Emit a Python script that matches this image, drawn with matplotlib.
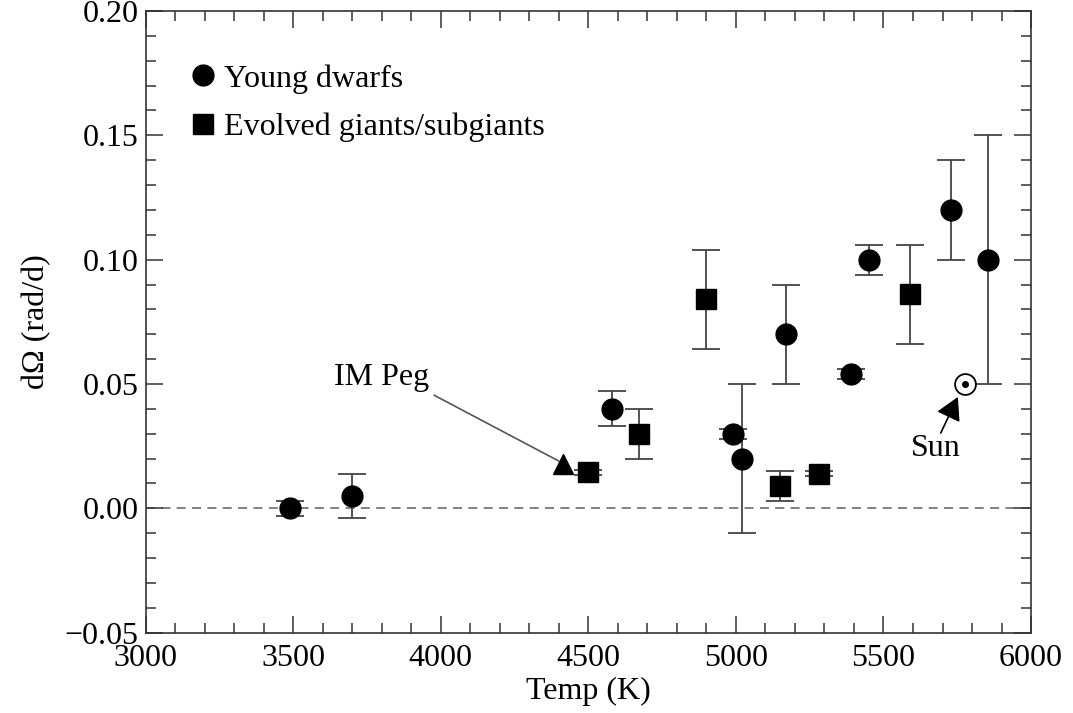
import matplotlib
matplotlib.use("Agg")
import matplotlib.pyplot as plt
from matplotlib.lines import Line2D
from matplotlib.ticker import MultipleLocator, FuncFormatter

plt.rcParams['font.family'] = ['Liberation Serif', 'DejaVu Serif']

# Young dwarfs
dwarf_T = [3490, 3700, 4580, 4990, 5020, 5170, 5390, 5450, 5730, 5855]
dwarf_dO = [0.000, 0.005, 0.040, 0.030, 0.020, 0.070, 0.054, 0.100, 0.120, 0.100]
dwarf_err = [0.003, 0.009, 0.007, 0.002, 0.030, 0.020, 0.002, 0.006, 0.020, 0.050]

# Evolved giants/subgiants
giant_T = [4500, 4670, 4900, 5150, 5280, 5590]
giant_dO = [0.0145, 0.030, 0.084, 0.009, 0.014, 0.086]
giant_err = [0.001, 0.010, 0.020, 0.006, 0.001, 0.020]

# IM Peg and Sun
impeg_T, impeg_dO = 4415, 0.018
sun_T, sun_dO = 5777, 0.050

FS = 23

fig = plt.figure(figsize=(10.73, 7.13), dpi=100)
ax = fig.add_axes([0.1358, 0.1126, 0.8251, 0.872])

ecol = '#444444'
ax.axhline(0, color='#777777', lw=1.3, ls=(0, (5, 3.5)), zorder=1)

ax.errorbar(dwarf_T, dwarf_dO, yerr=dwarf_err, fmt='none', ecolor=ecol,
            elinewidth=1.3, capsize=10, capthick=1.3, zorder=2)
ax.errorbar(giant_T, giant_dO, yerr=giant_err, fmt='none', ecolor=ecol,
            elinewidth=1.3, capsize=10, capthick=1.3, zorder=2)
ax.plot(dwarf_T, dwarf_dO, 'o', color='black', ms=15, zorder=3)
ax.plot(giant_T, giant_dO, 's', color='black', ms=15, zorder=3)
ax.plot([impeg_T], [impeg_dO], '^', color='black', ms=15, zorder=3)
ax.plot([sun_T], [sun_dO], 'o', mfc='white', mec='black', mew=1.3, ms=15, zorder=3)
ax.plot([sun_T], [sun_dO], 'o', color='black', ms=4, zorder=4)

ax.annotate('IM Peg', xy=(impeg_T - 15, impeg_dO + 0.001), xytext=(3800, 0.0525),
            fontsize=FS, ha='center', va='center',
            arrowprops=dict(arrowstyle='-', color='#555555', lw=1.2,
                            shrinkA=0, shrinkB=0, relpos=(1.05, -0.1)))
ax.annotate('', xy=(5752, 0.0448), xytext=(5694, 0.0303),
            arrowprops=dict(arrowstyle='-|>,head_length=0.5,head_width=0.28',
                            mutation_scale=28, color='black', lw=1.2,
                            shrinkA=0, shrinkB=0))
ax.text(5677, 0.0240, 'Sun', fontsize=FS, ha='center', va='center')

ax.set_xlim(3000, 6000)
ax.set_ylim(-0.05, 0.20)
ax.xaxis.set_major_locator(MultipleLocator(500))
ax.xaxis.set_minor_locator(MultipleLocator(100))
ax.yaxis.set_major_locator(MultipleLocator(0.05))
ax.yaxis.set_minor_locator(MultipleLocator(0.01))
ax.yaxis.set_major_formatter(FuncFormatter(lambda v, p: ('%.2f' % v).replace('-', '\u2212')))

ax.tick_params(which='both', direction='in', top=True, right=True,
               color='#333333', labelsize=FS, width=1.1)
ax.tick_params(which='major', length=12.5)
ax.tick_params(axis='x', which='major', pad=8)
ax.tick_params(axis='y', which='major', pad=5)
ax.tick_params(which='minor', length=7)
for s in ax.spines.values():
    s.set_color('#333333')
    s.set_linewidth(1.2)

ax.set_xlabel('Temp (K)', fontsize=FS, labelpad=3)
ax.set_ylabel('dΩ (rad/d)', fontsize=FS, labelpad=10)

handles = [Line2D([], [], marker='o', ls='none', color='black', ms=15),
           Line2D([], [], marker='s', ls='none', color='black', ms=15)]
ax.legend(handles, ['Young dwarfs', 'Evolved giants/subgiants'],
          loc='upper left', bbox_to_anchor=(0.036, 0.935), frameon=False,
          fontsize=FS, handlelength=0.8, handletextpad=0.25, labelspacing=0.58,
          borderaxespad=0)

fig.savefig('out.png', dpi=100)
